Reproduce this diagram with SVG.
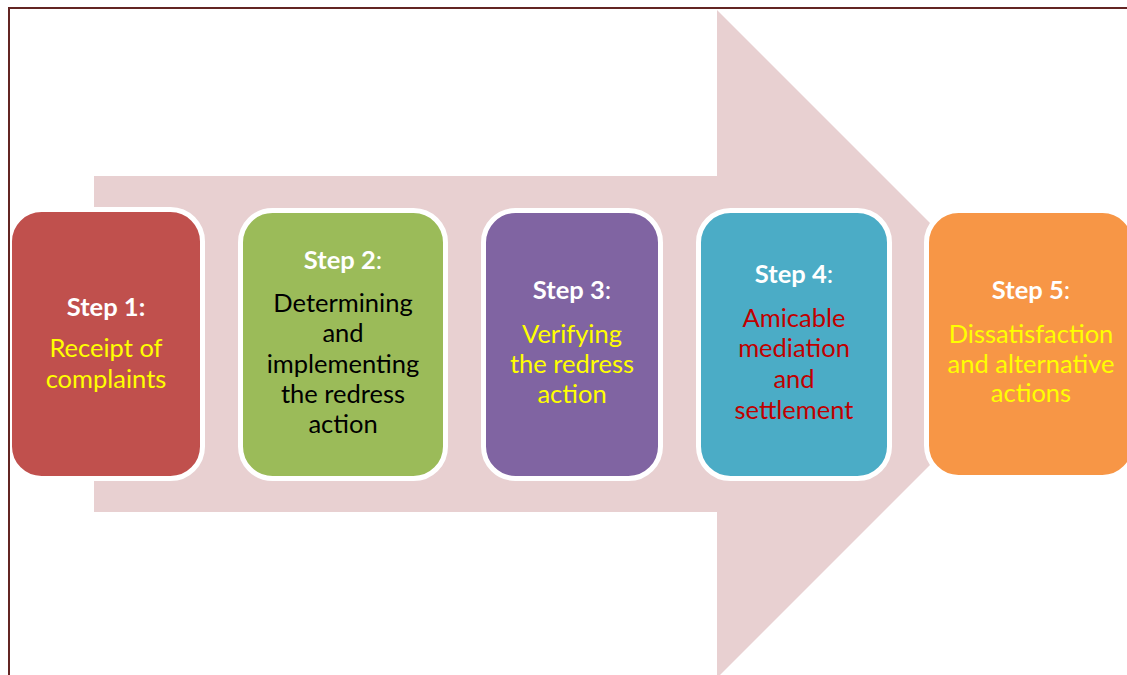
<svg xmlns="http://www.w3.org/2000/svg" width="1127" height="675" viewBox="0 0 1127 675">
  <style>
    .frame { stroke: #632523; stroke-width: 2; fill: none; }
    .box { stroke: #ffffff; stroke-width: 5; }
    text { font-family: Lato, "Liberation Sans", sans-serif; font-size: 25.5px; text-anchor: middle; }
    .step { fill: #ffffff; font-weight: bold; }
    .colon { fill: #ffffff; font-weight: normal; }
    .yellow { fill: #ffff00; }
    .black { fill: #000000; }
    .red { fill: #c00000; }
  </style>

  <rect width="1127" height="675" fill="#ffffff"/>

  <!-- process arrow behind the steps -->
  <polygon id="flow-arrow" points="94,176 717,176 717,10 1051,344 717,678 717,512 94,512" fill="#e8d0d1"/>

  <g id="step1">
    <rect class="box" x="9.5" y="209.5" width="193" height="269" rx="32" fill="#c0504d"/>
    <text x="106" y="316" class="step">Step 1:</text>
    <text x="106" y="357" class="yellow">Receipt of</text>
    <text x="106" y="388" class="yellow">complaints</text>
  </g>

  <g id="step2">
    <rect class="box" x="240.5" y="210.5" width="205" height="268" rx="32" fill="#9bbb59"/>
    <text x="343" y="269" class="step">Step 2<tspan class="colon">:</tspan></text>
    <text x="343" y="312" class="black">Determining</text>
    <text x="343" y="342" class="black">and</text>
    <text x="343" y="373" class="black">implementing</text>
    <text x="343" y="403" class="black">the redress</text>
    <text x="343" y="433" class="black">action</text>
  </g>

  <g id="step3">
    <rect class="box" x="483.5" y="210.5" width="177" height="268" rx="32" fill="#8064a2"/>
    <text x="572" y="299" class="step">Step 3<tspan class="colon">:</tspan></text>
    <text x="572" y="343" class="yellow">Verifying</text>
    <text x="572" y="373" class="yellow">the redress</text>
    <text x="572" y="403" class="yellow">action</text>
  </g>

  <g id="step4">
    <rect class="box" x="698.5" y="210.5" width="191" height="268" rx="32" fill="#4bacc6"/>
    <text x="794" y="283" class="step">Step 4<tspan class="colon">:</tspan></text>
    <text x="794" y="327" class="red">Amicable</text>
    <text x="794" y="357" class="red">mediation</text>
    <text x="794" y="388" class="red">and</text>
    <text x="794" y="419" class="red">settlement</text>
  </g>

  <g id="step5">
    <rect class="box" x="926.5" y="210.5" width="208" height="267" rx="32" fill="#f79646"/>
    <text x="1031" y="299" class="step">Step 5<tspan class="colon">:</tspan></text>
    <text x="1031" y="343" class="yellow">Dissatisfaction</text>
    <text x="1031" y="373" class="yellow">and alternative</text>
    <text x="1031" y="402" class="yellow">actions</text>
  </g>

  <!-- page frame: top and left rules -->
  <g id="frame">
    <line class="frame" x1="8" y1="8" x2="1127" y2="8"/>
    <line class="frame" x1="9" y1="8" x2="9" y2="675"/>
  </g>
</svg>
